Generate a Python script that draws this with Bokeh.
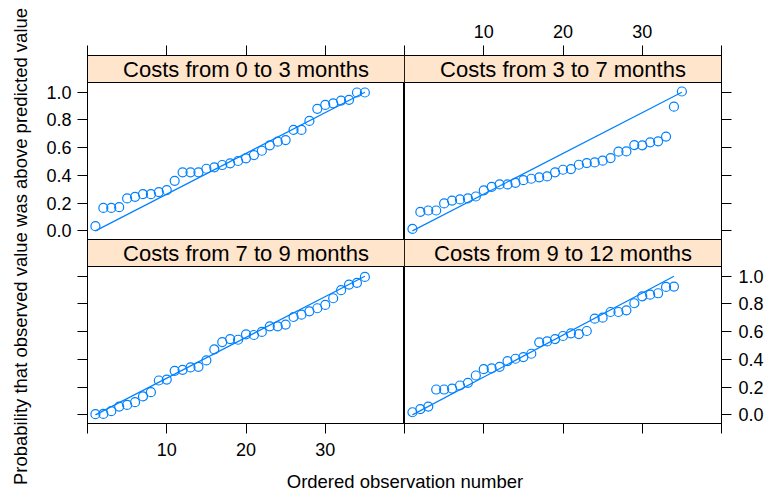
from math import pi
from bokeh.plotting import figure
from bokeh.models import (Range1d, FixedTicker, LinearAxis, CustomJSTickFormatter)
from bokeh.layouts import row, column
from bokeh.embed import file_html
from bokeh.resources import INLINE
from bokeh.core.properties import value

# ---------------- data ----------------
strip_labels = ["Costs from 0 to 3 months", "Costs from 3 to 7 months",
                "Costs from 7 to 9 months", "Costs from 9 to 12 months"]

prob_0_3 = [0.034, 0.166, 0.166, 0.171, 0.234, 0.246, 0.265, 0.265, 0.280, 0.294,
            0.361, 0.422, 0.422, 0.422, 0.448, 0.458, 0.475, 0.487, 0.504, 0.523,
            0.547, 0.578, 0.617, 0.643, 0.655, 0.728, 0.728, 0.793, 0.880, 0.908,
            0.920, 0.940, 0.945, 0.998, 0.998]
prob_3_7 = [0.014, 0.137, 0.147, 0.147, 0.198, 0.219, 0.227, 0.234, 0.248, 0.292,
            0.318, 0.335, 0.335, 0.347, 0.366, 0.376, 0.386, 0.393, 0.422, 0.441,
            0.446, 0.477, 0.489, 0.494, 0.506, 0.525, 0.571, 0.573, 0.619, 0.617,
            0.639, 0.646, 0.680, 0.896, 1.005]
prob_7_9 = [0.005, 0.007, 0.027, 0.060, 0.072, 0.092, 0.133, 0.164, 0.248, 0.255,
            0.318, 0.325, 0.342, 0.347, 0.393, 0.472, 0.525, 0.547, 0.542, 0.581,
            0.576, 0.598, 0.639, 0.639, 0.651, 0.706, 0.723, 0.747, 0.769, 0.793,
            0.841, 0.899, 0.940, 0.952, 0.995]
prob_9_12 = [0.019, 0.041, 0.060, 0.183, 0.183, 0.190, 0.212, 0.231, 0.284, 0.330,
             0.335, 0.347, 0.388, 0.405, 0.417, 0.441, 0.523, 0.530, 0.547, 0.569,
             0.588, 0.583, 0.605, 0.694, 0.701, 0.742, 0.742, 0.754, 0.805, 0.855,
             0.867, 0.877, 0.923, 0.925]

x_ticks = [0, 10, 20, 30, 40]
x_tick_labels = {0: "", 10: "10", 20: "20", 30: "30", 40: ""}
y_ticks = [0.0, 0.2, 0.4, 0.6, 0.8, 1.0]

x_title = "Ordered observation number"
y_title = "Probability that observed value was above predicted value"

# ---------------- style ----------------
FONT = "Liberation Sans"
BLUE = "#0080ff"
STRIP = "#ffe5cc"
X0, X1 = 0, 40
Y0, Y1 = -0.062, 1.070          # panel (data) y limits
STRIP_TOP = 1.2647              # strip sits above the panel
SPAN = STRIP_TOP - Y0           # one panel + strip, in y units
FRAME_W, PANEL_H = 317, 184
BORDER_L, BORDER_R, BORDER_T, BORDER_B = 44, 45, 55, 44
YT_W = 43
XT_H = 23


def base_axis(ax, ticks, standoff):
    ax.ticker = FixedTicker(ticks=ticks, minor_ticks=[])
    ax.major_tick_out = 10
    ax.major_tick_in = 0
    ax.minor_tick_out = 0
    ax.minor_tick_in = 0
    ax.axis_line_color = "black"
    ax.major_tick_line_color = "black"
    ax.major_label_text_font = FONT
    ax.major_label_text_font_size = "18px"
    ax.major_label_text_color = "black"
    ax.major_label_standoff = standoff


def column_figure(col, vals_top, vals_bot, lab_top, lab_bot, show_x_top, show_y_side):
    left_b = BORDER_L if col == 0 else 0
    right_b = BORDER_R if col == 1 else 0
    p = figure(width=FRAME_W + left_b + right_b,
               height=2 * PANEL_H + BORDER_T + BORDER_B,
               x_range=Range1d(X0, X1),
               y_range=Range1d(Y0 - SPAN, STRIP_TOP),
               x_axis_location=None, y_axis_location=None,
               toolbar_location=None, output_backend="svg",
               min_border_left=left_b, min_border_right=right_b,
               min_border_top=BORDER_T, min_border_bottom=BORDER_B)
    p.extra_y_ranges = {"bottom": Range1d(Y0, STRIP_TOP + SPAN)}
    p.grid.visible = False
    p.outline_line_color = "black"
    p.outline_line_alpha = 1.0
    p.outline_line_width = 1
    p.background_fill_color = "white"
    p.border_fill_color = "white"

    # y axis: ticks for the top panel (default range) and the bottom panel
    # (same values, shifted by one panel in the default range)
    yt_pos = list(y_ticks) + [v - SPAN for v in y_ticks]
    yax = LinearAxis()
    base_axis(yax, yt_pos, 6 if col == 0 else 7)
    if show_y_side == "top":
        code = "return tick < -0.1 ? '' : (Math.round(tick * 10) / 10).toFixed(1);"
    else:
        code = ("return tick < -0.1 ? (Math.round((tick + %r) * 10) / 10).toFixed(1) : '';"
                % SPAN)
    yax.formatter = CustomJSTickFormatter(code=code)
    p.add_layout(yax, "left" if col == 0 else "right")

    xa = LinearAxis()
    base_axis(xa, x_ticks, 8)
    xa.major_label_overrides = x_tick_labels if show_x_top else {t: "" for t in x_ticks}
    p.add_layout(xa, "above")

    xb = LinearAxis()
    base_axis(xb, x_ticks, 9)
    xb.major_label_overrides = {t: "" for t in x_ticks} if show_x_top else x_tick_labels
    p.add_layout(xb, "below")

    for vals, label, rng in ((vals_top, lab_top, "default"), (vals_bot, lab_bot, "bottom")):
        p.quad(left=[X0], right=[X1], bottom=[Y1], top=[STRIP_TOP],
               fill_color=STRIP, line_color="black", line_width=1, y_range_name=rng)
        p.text(x=[(X0 + X1) / 2], y=[Y1 + 0.093], text=[label],
               text_font=value(FONT), text_font_size="22px", text_color="black",
               text_align="center", text_baseline="alphabetic", y_range_name=rng)
        n = len(vals)
        obs = list(range(1, n + 1))
        p.line([obs[0], obs[-1]], [0, 1], line_color=BLUE, line_width=1.2,
               y_range_name=rng)
        p.scatter(obs, vals, marker="circle", size=9, fill_color=None,
                  line_color=BLUE, line_width=1.2, y_range_name=rng)
    return p


left_col = column_figure(0, prob_0_3, prob_7_9, strip_labels[0], strip_labels[2],
                         show_x_top=False, show_y_side="top")
right_col = column_figure(1, prob_3_7, prob_9_12, strip_labels[1], strip_labels[3],
                          show_x_top=True, show_y_side="bottom")

TOTAL_W = 2 * FRAME_W + BORDER_L + BORDER_R
TOTAL_H = 2 * PANEL_H + BORDER_T + BORDER_B + XT_H

# x title
xt = figure(width=TOTAL_W, height=XT_H, x_range=Range1d(0, TOTAL_W),
            y_range=Range1d(0, XT_H), x_axis_location=None, y_axis_location=None,
            toolbar_location=None, output_backend="svg", min_border=0)
xt.grid.visible = False
xt.outline_line_color = None
xt.text(x=[BORDER_L + FRAME_W + 0.5], y=[9.5], text=[x_title], text_font=value(FONT),
        text_font_size="18.5px", text_color="black", text_align="center",
        text_baseline="alphabetic")

# y title
yt = figure(width=YT_W, height=TOTAL_H, x_range=Range1d(0, YT_W),
            y_range=Range1d(0, TOTAL_H), x_axis_location=None, y_axis_location=None,
            toolbar_location=None, output_backend="svg", min_border=0)
yt.grid.visible = False
yt.outline_line_color = None
yt.text(x=[20.2], y=[TOTAL_H - 246], text=[y_title], text_font=value(FONT),
        text_font_size="18.5px", text_color="black", text_align="center",
        text_baseline="alphabetic", angle=pi / 2)

layout = row(yt, column(row(left_col, right_col), xt))

open("out.html", "w").write(file_html(layout, INLINE))
